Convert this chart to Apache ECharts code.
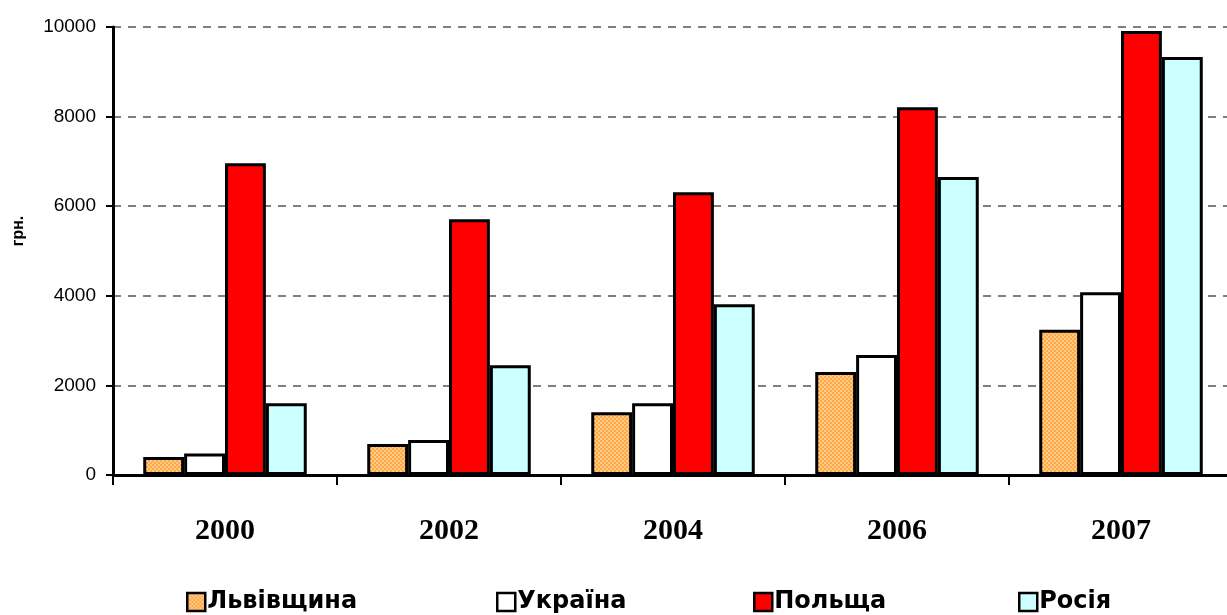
<!DOCTYPE html>
<html>
<head>
<meta charset="utf-8">
<script src="https://cdn.jsdelivr.net/npm/echarts@6/dist/echarts.min.js"></script>
<style>
html,body{margin:0;padding:0;background:#fff;}
#main{width:1227px;height:615px;}
</style>
</head>
<body>
<div id="main"></div>
<script>
// роки
var years = ['2000', '2002', '2004', '2006', '2007'];
// зарплата, грн.
var lviv = [400, 690, 1400, 2300, 3240];
var ukraine = [480, 780, 1600, 2680, 4080];
var poland = [6960, 5710, 6310, 8210, 9910];
var russia = [1600, 2450, 3810, 6650, 9330];
var yTicks = [0, 2000, 4000, 6000, 8000, 10000];

// візерунок для Львівщини (точки)
function dotPattern(){
	var c = document.createElement('canvas');
	c.width = 4; c.height = 4;
	var ctx = c.getContext('2d');
	ctx.fillStyle = '#ffcc80';
	ctx.fillRect(0, 0, 4, 4);
	ctx.fillStyle = '#ffa64d';
	ctx.fillRect(0, 0, 2, 2);
	ctx.fillRect(2, 2, 2, 2);
	return c;
}
var lvivFill = {image: dotPattern(), repeat: 'repeat'};

function mkSeries(name, data, fill){
	return {
		name: name,
		type: 'bar',
		data: data,
		barGap: '0%',
		barCategoryGap: '27%',
		itemStyle: {color: fill, borderColor: '#000', borderWidth: 3},
		emphasis: {disabled: true}
	};
}

function mkLegend(name, left){
	return {
		data: [name],
		left: left,
		top: 590,
		padding: 0,
		itemWidth: 18,
		itemHeight: 18,
		icon: 'rect',
		selectedMode: false,
		itemStyle: {borderColor: '#000', borderWidth: 2.5},
		textStyle: {fontFamily: 'DejaVu Sans', fontWeight: 'bold', fontSize: 24, color: '#000', padding: [0, 0, 0, -3]}
	};
}

var myChart = echarts.init(document.getElementById('main'));

var option = {
	animation: false,
	backgroundColor: '#fff',
	grid: {left: 113, top: 27, width: 1120, height: 448, outerBoundsMode: 'none'},
	legend: [
		mkLegend('Львівщина', 186),
		mkLegend('Україна', 496),
		mkLegend('Польща', 753),
		mkLegend('Росія', 1018)
	],
	graphic: [{
		type: 'text',
		x: 19,
		y: 231,
		rotation: Math.PI / 2,
		style: {text: 'грн.', fontFamily: 'Liberation Sans', fontWeight: 'bold', fontSize: 16, fill: '#000', align: 'center', verticalAlign: 'middle'}
	}],
	xAxis: {
		type: 'category',
		data: years,
		axisLine: {lineStyle: {color: '#000', width: 3}},
		axisTick: {show: true, length: 10, lineStyle: {color: '#000', width: 2}},
		axisLabel: {fontFamily: 'Liberation Serif', fontWeight: 'bold', fontSize: 30, color: '#000', margin: 41}
	},
	yAxis: {
		type: 'value',
		min: yTicks[0],
		max: yTicks[yTicks.length - 1],
		interval: 2000,
		axisLine: {show: true, lineStyle: {color: '#000', width: 3}},
		axisTick: {show: true, length: 7, lineStyle: {color: '#000', width: 2}},
		axisLabel: {fontFamily: 'Liberation Sans', fontSize: 19, color: '#000', margin: 17,
			formatter: function(v){ return String(v); }},
		splitLine: {show: true, lineStyle: {color: '#555', type: [8, 7], width: 1.5}}
	},
	series: [
		mkSeries('Львівщина', lviv, lvivFill),
		mkSeries('Україна', ukraine, '#ffffff'),
		mkSeries('Польща', poland, '#ff0000'),
		mkSeries('Росія', russia, '#ccffff')
	]
};

myChart.setOption(option);
</script>
</body>
</html>
